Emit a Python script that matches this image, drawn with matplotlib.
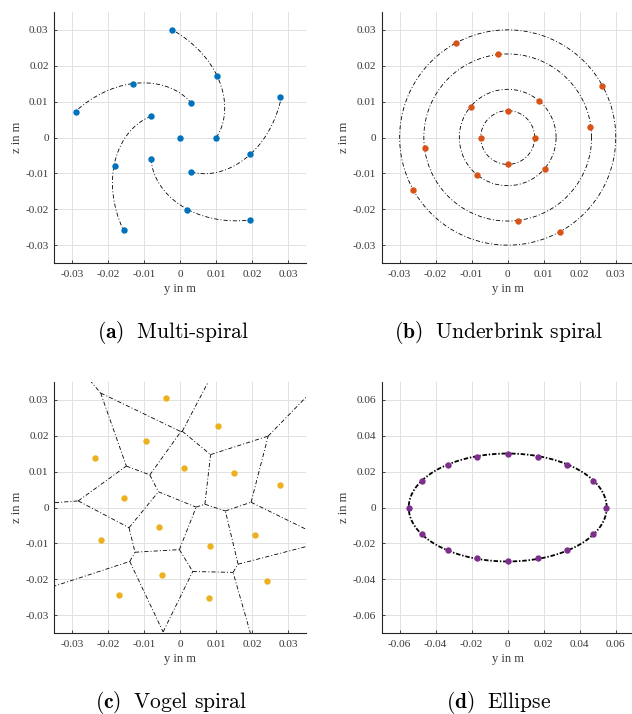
import numpy as np
import matplotlib
matplotlib.use("Agg")
import matplotlib.pyplot as plt

plt.rcParams['axes.unicode_minus'] = False
plt.rcParams['mathtext.fontset'] = 'cm'

# ---------------- data ----------------
# (a) multi-spiral: 5 arms, each inner / middle / outer point (y, z) in m
arm_y = [[0.0100, 0.0102, -0.0022],
         [0.0031, -0.0131, -0.0290],
         [-0.0081, -0.0182, -0.0157],
         [-0.0081, 0.0019, 0.0193],
         [0.0031, 0.0194, 0.0276]]
arm_z = [[0.0000, 0.0172, 0.0300],
         [0.0095, 0.0150, 0.0072],
         [0.0059, -0.0080, -0.0257],
         [-0.0060, -0.0201, -0.0230],
         [-0.0096, -0.0045, 0.0113]]
center_y = [0.0]
center_z = [0.0]
spiral_growth = 0.67  # log-spiral growth rate per rad

# (b) Underbrink spiral: 4 rings of 4 points
ring_y = [[0.0, 0.0075, 0.0, -0.0075],
          [0.0086, -0.0102, -0.0085, 0.0103],
          [-0.0028, 0.0230, 0.0029, -0.0230],
          [-0.0144, 0.0262, 0.0144, -0.0262]]
ring_z = [[0.0075, 0.0, -0.0075, 0.0],
          [0.0103, 0.0086, -0.0104, -0.0088],
          [0.0232, 0.0028, -0.0233, -0.0029],
          [0.0264, 0.0145, -0.0264, -0.0146]]

# (c) Vogel spiral points
vogel_y = [-0.0039, 0.0106, -0.0096, 0.0009, -0.0236, 0.0149, 0.0277, -0.0156,
           -0.0058, -0.0219, 0.0082, 0.0208, -0.0050, -0.0169, 0.0079, 0.0241]
vogel_z = [0.0304, 0.0228, 0.0186, 0.0111, 0.0137, 0.0095, 0.0062, 0.0027,
           -0.0053, -0.0092, -0.0108, -0.0078, -0.0188, -0.0244, -0.0251, -0.0205]

# (d) Ellipse points
ell_y = [0.0, 0.0169, 0.0331, 0.0474, 0.0548, 0.0474, 0.0331, 0.0169,
         0.0, -0.0169, -0.0331, -0.0474, -0.0548, -0.0474, -0.0331, -0.0169]
ell_z = [0.0301, 0.0284, 0.0237, 0.0150, 0.0, -0.0150, -0.0237, -0.0284,
         -0.0301, -0.0284, -0.0237, -0.0150, 0.0, 0.0150, 0.0237, 0.0284]

ticks_small = [-0.03, -0.02, -0.01, 0, 0.01, 0.02, 0.03]
ticklabels_small = ['-0.03', '-0.02', '-0.01', '0', '0.01', '0.02', '0.03']
ticks_large = [-0.06, -0.04, -0.02, 0, 0.02, 0.04, 0.06]
ticklabels_large = ['-0.06', '-0.04', '-0.02', '0', '0.02', '0.04', '0.06']

captions = [('(a)', 'Multi-spiral'), ('(b)', 'Underbrink spiral'),
            ('(c)', 'Vogel spiral'), ('(d)', 'Ellipse')]

colors = ['#0072BD', '#D95319', '#EDB120', '#7E2F8E']

# ---------------- style ----------------
TICKFONT = 'Liberation Serif'
AXC = '#262626'
GRIDC = '#e1e1e1'
MS = 4.6
DASH = (0, (5, 2.5, 1.2, 2.5))
LW = 0.6

fig = plt.figure(figsize=(6.32, 7.14), dpi=100)
W, H = 632, 714


def make_ax(left, top, width, height):
    return fig.add_axes([left / W, 1 - (top + height) / H, width / W, height / H])


def style(ax, lim, ticks, labels):
    ax.set_xlim(-lim, lim)
    ax.set_ylim(-lim, lim)
    ax.set_xticks(ticks)
    ax.set_yticks(ticks)
    ax.set_xticklabels(labels, fontfamily=TICKFONT, fontsize=8.2, color='#3a3a3a')
    ax.set_yticklabels(labels, fontfamily=TICKFONT, fontsize=8.2, color='#3a3a3a')
    ax.grid(True, color=GRIDC, lw=0.7)
    ax.set_axisbelow(True)
    for s in ['top', 'right']:
        ax.spines[s].set_visible(False)
    for s in ['left', 'bottom']:
        ax.spines[s].set_color(AXC)
        ax.spines[s].set_linewidth(0.8)
    ax.tick_params(direction='in', length=2.5, width=0.6, color=AXC)
    ax.tick_params(axis='x', pad=5)
    ax.tick_params(axis='y', pad=4)
    ax.set_xlabel('y in m', fontfamily=TICKFONT, fontsize=9, color='#3a3a3a', labelpad=3)
    ax.set_ylabel('z in m', fontfamily=TICKFONT, fontsize=9, color='#3a3a3a', labelpad=2)


axw, axh = 252, 251
ax_a = make_ax(54.3, 12, axw, axh)
ax_b = make_ax(381.7, 12, axw, axh)
ax_c = make_ax(54.3, 382, axw, axh)
ax_d = make_ax(381.7, 382, axw, axh)

# ---- (a) multi-spiral ----
for ys, zs in zip(arm_y, arm_z):
    ys = np.array(ys); zs = np.array(zs)
    r = np.hypot(ys, zs)
    phi0 = np.arctan2(zs[0], ys[0])
    t_end = np.log(r[-1] / r[0]) / spiral_growth
    t = np.linspace(0, t_end, 200)
    rr = r[0] * np.exp(spiral_growth * t)
    ax_a.plot(rr * np.cos(phi0 + t), rr * np.sin(phi0 + t), color='k', lw=LW, linestyle=DASH, zorder=2)
all_y = np.concatenate([np.ravel(arm_y), center_y])
all_z = np.concatenate([np.ravel(arm_z), center_z])
ax_a.plot(all_y, all_z, 'o', color=colors[0], ms=MS, mec='none', zorder=3)
style(ax_a, 0.035, ticks_small, ticklabels_small)

# ---- (b) Underbrink ----
th = np.linspace(0, 2 * np.pi, 400)
for ys, zs in zip(ring_y, ring_z):
    rad = np.mean(np.hypot(ys, zs))
    ax_b.plot(rad * np.cos(th), rad * np.sin(th), color='k', lw=LW, linestyle=DASH, zorder=2)
ax_b.plot(np.ravel(ring_y), np.ravel(ring_z), 'o', color=colors[1], ms=MS, mec='none', zorder=3)
style(ax_b, 0.035, ticks_small, ticklabels_small)

# ---- (c) Vogel + Voronoi ----
pts = np.column_stack([vogel_y, vogel_z])


def clip(poly, p, q):
    m = (p + q) / 2
    n = q - p
    out = []
    L = len(poly)
    for k in range(L):
        a = poly[k]; b = poly[(k + 1) % L]
        da = np.dot(a - m, n); db = np.dot(b - m, n)
        if da <= 0:
            out.append(a)
        if (da < 0 < db) or (db < 0 < da):
            tt = da / (da - db)
            out.append(a + tt * (b - a))
    return out


B = 1.0
edges = []
for i, p in enumerate(pts):
    poly = [np.array([-B, -B]), np.array([B, -B]), np.array([B, B]), np.array([-B, B])]
    for j, q in enumerate(pts):
        if j != i:
            poly = clip(poly, p, q)
    L = len(poly)
    for k in range(L):
        a = poly[k]; b = poly[(k + 1) % L]
        if np.linalg.norm(b - a) < 1e-9:
            continue
        da = np.abs(np.linalg.norm(pts - a, axis=1) - np.linalg.norm(a - p))
        db = np.abs(np.linalg.norm(pts - b, axis=1) - np.linalg.norm(b - p))
        score = np.maximum(da, db)
        score[i] = np.inf
        j = int(np.argmin(score))
        if score[j] < 1e-7 and i < j:
            edges.append((a, b))
for a, b in edges:
    ax_c.plot([a[0], b[0]], [a[1], b[1]], color='k', lw=LW, linestyle=DASH, zorder=2)
ax_c.plot(vogel_y, vogel_z, 'o', color=colors[2], ms=MS, mec='none', zorder=3)
style(ax_c, 0.035, ticks_small, ticklabels_small)

# ---- (d) Ellipse ----
a_semi = np.max(np.abs(ell_y)) + 0.0002
b_semi = np.max(np.abs(ell_z))
te = np.linspace(0, 2 * np.pi, 400)
ax_d.plot(a_semi * np.cos(te), b_semi * np.sin(te), color='k', lw=1.3, linestyle=(0, (2.5, 1.0, 0.8, 1.0)), zorder=2)
ax_d.plot(ell_y, ell_z, 'o', color=colors[3], ms=MS, mec='none', zorder=3)
style(ax_d, 0.07, ticks_large, ticklabels_large)

# ---- captions ----
cap_pos = [(173, 333), (499, 333), (171, 702), (499, 702)]
for (tag, txt), (cx, cy) in zip(captions, cap_pos):
    fig.text(cx / W, 1 - cy / H, r'$\mathbf{' + tag + r'}\;$ ' + txt, ha='center', va='center',
             fontfamily='cmr10', fontsize=15.5, color='k')

fig.savefig('out.png', dpi=100)
